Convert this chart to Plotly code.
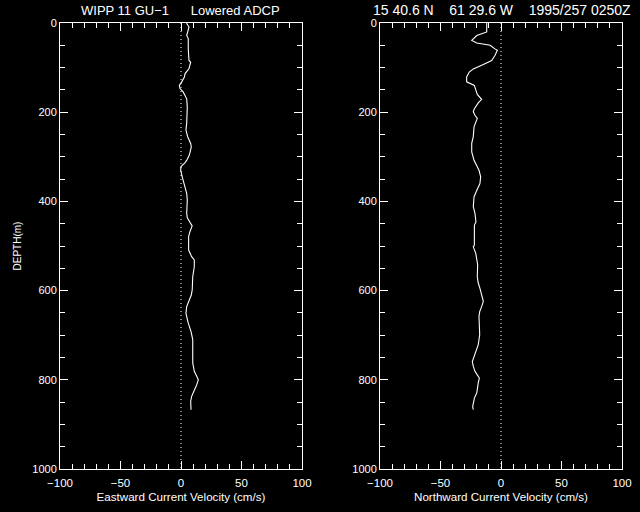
import plotly.graph_objects as go

# Eastward profile (cm/s) vs depth (m)
east_depth = [0, 9, 28, 35, 58, 84, 88, 102, 114, 121, 132, 140, 147, 155, 170, 188, 225, 240, 255, 270, 278,
              296, 308, 315, 322, 330, 349, 367, 382, 397, 427, 437, 446, 455, 468, 479, 509, 524, 531, 546,
              569, 598, 610, 621, 636, 651, 673, 692, 710, 762, 781, 792, 800, 811, 826, 837, 848, 867]
east_vel = [4.5, 6.6, 4.7, 6.0, 6.0, 6.6, 8.0, 6.6, 3.3, 2.8, 0.6, -1.4, -0.8, 1.9, 4.7, 5.2, 4.7, 4.1, 5.5, 8.0, 8.5,
            6.9, 4.7, 2.8, 0.0, -0.3, 1.4, 3.3, 4.7, 5.2, 4.7, 5.2, 7.4, 9.2, 7.4, 6.3, 6.3, 8.8, 11.0, 11.0,
            9.7, 9.3, 8.5, 6.9, 4.7, 4.1, 6.0, 8.3, 9.7, 9.7, 11.0, 13.0, 14.3, 13.0, 10.2, 8.8, 8.0, 8.3]

# Northward profile (cm/s) vs depth (m)
north_depth = [0, 20, 28, 39, 45, 50, 58, 61, 73, 84, 93, 103, 110, 121, 132, 136, 140, 151, 160, 171, 179,
               192, 199, 207, 214, 233, 255, 270, 289, 308, 319, 330, 345, 360, 375, 390, 412, 427, 446, 453,
               498, 502, 516, 542, 569, 583, 595, 610, 624, 636, 647, 658, 680, 699, 721, 736, 748, 759, 770,
               781, 789, 796, 807, 829, 841, 852, 860, 867]
north_vel = [-11.8, -11.8, -20.0, -24.2, -20.0, -9.0, -5.0, -3.0, -5.0, -7.7, -14.6, -22.9, -26.2, -28.4, -28.4,
             -25.6, -22.0, -20.7, -19.6, -16.0, -18.8, -22.0, -22.9, -21.5, -19.6, -22.3, -22.9, -24.2, -24.2,
             -22.3, -20.0, -18.2, -16.8, -17.4, -20.0, -22.3, -22.9, -21.5, -20.7, -22.0, -22.0, -22.9, -20.9,
             -19.3, -19.6, -18.8, -17.4, -16.0, -14.6, -16.0, -17.6, -18.2, -18.2, -17.6, -18.8, -20.7, -22.0,
             -23.7, -22.9, -21.5, -19.6, -17.9, -18.8, -20.0, -22.0, -22.9, -23.4, -22.9]

zero_x = [0, 0]
zero_depth = [0, 1000]

x_range = [-100, 100]
depth_range = [1000, 0]

x_tickvals = [-100, -50, 0, 50, 100]
x_ticktext = ["\u2212100", "\u221250", "0", "50", "100"]

SP = "\u00a0"
left_title = "WIPP 11 GU\u22121" + SP * 6 + "Lowered ADCP"
right_title = "15 40.6 N" + SP * 4 + "61 29.6 W" + SP * 4 + "1995/257 0250Z"
x_titles = ["Eastward Current Velocity (cm/s)", "Northward Current Velocity (cm/s)"]
y_title = "DEPTH(m)"

FONT = "Liberation Sans"
W, H = 640, 512

fig = go.Figure()

fig.add_trace(go.Scatter(x=east_vel, y=east_depth, mode="lines", line=dict(color="white", width=1.1),
                         xaxis="x", yaxis="y", showlegend=False))
fig.add_trace(go.Scatter(x=zero_x, y=zero_depth, mode="lines", line=dict(color="white", width=1, dash="1px,3px"),
                         xaxis="x", yaxis="y", showlegend=False))
fig.add_trace(go.Scatter(x=north_vel, y=north_depth, mode="lines", line=dict(color="white", width=1.1),
                         xaxis="x2", yaxis="y2", showlegend=False))
fig.add_trace(go.Scatter(x=zero_x, y=zero_depth, mode="lines", line=dict(color="white", width=1, dash="1px,3px"),
                         xaxis="x2", yaxis="y2", showlegend=False))

ydom = [1 - 469 / H, 1 - 23 / H]

def xaxis(dom, anchor, title):
    return dict(domain=dom, anchor=anchor, range=x_range, showgrid=False, zeroline=False,
                showline=True, linecolor="white", linewidth=1, mirror="ticks", automargin=False,
                ticks="inside", ticklen=8, tickcolor="white", tickwidth=1,
                tickmode="array", tickvals=x_tickvals, ticktext=x_ticktext,
                ticklabelstandoff=3,
                minor=dict(ticks="inside", ticklen=5, dtick=10, tick0=-100, tickcolor="white", showgrid=False),
                tickfont=dict(family=FONT, size=11.5, color="white"),
                title=dict(text=title, font=dict(family=FONT, size=11.6, color="white"), standoff=5),
                fixedrange=True)

def yaxis(anchor, title):
    d = dict(domain=ydom, anchor=anchor, range=depth_range, showgrid=False, zeroline=False,
             showline=True, linecolor="white", linewidth=1, mirror="ticks", automargin=False,
             ticks="inside", ticklen=8, tickcolor="white", tickwidth=1,
             tickmode="linear", tick0=0, dtick=200,
             minor=dict(ticks="inside", ticklen=5, dtick=50, tick0=0, tickcolor="white", showgrid=False),
             tickfont=dict(family=FONT, size=11, color="white"),
             fixedrange=True)
    if title:
        d["title"] = dict(text=title, font=dict(family=FONT, size=10, color="white"), standoff=8)
    return d

fig.update_layout(
    width=W, height=H,
    margin=dict(l=0, r=0, t=0, b=0, autoexpand=False),
    paper_bgcolor="black", plot_bgcolor="black",
    xaxis=xaxis([60 / W, 302 / W], "y", x_titles[0]),
    yaxis=yaxis("x", y_title),
    xaxis2=xaxis([380 / W, 622 / W], "y2", x_titles[1]),
    yaxis2=yaxis("x2", None),
    annotations=[
        dict(text=left_title, x=180 / W, y=1 - 10 / H, xref="paper", yref="paper", showarrow=False,
             xanchor="center", yanchor="middle", font=dict(family=FONT, size=13, color="white")),
        dict(text=right_title, x=502 / W, y=1 - 10 / H, xref="paper", yref="paper", showarrow=False,
             xanchor="center", yanchor="middle", font=dict(family=FONT, size=14, color="white")),
    ],
)

fig.write_html("out.html", config={"displayModeBar": False},
               post_script="document.body.style.margin='0';document.body.style.background='black';")
